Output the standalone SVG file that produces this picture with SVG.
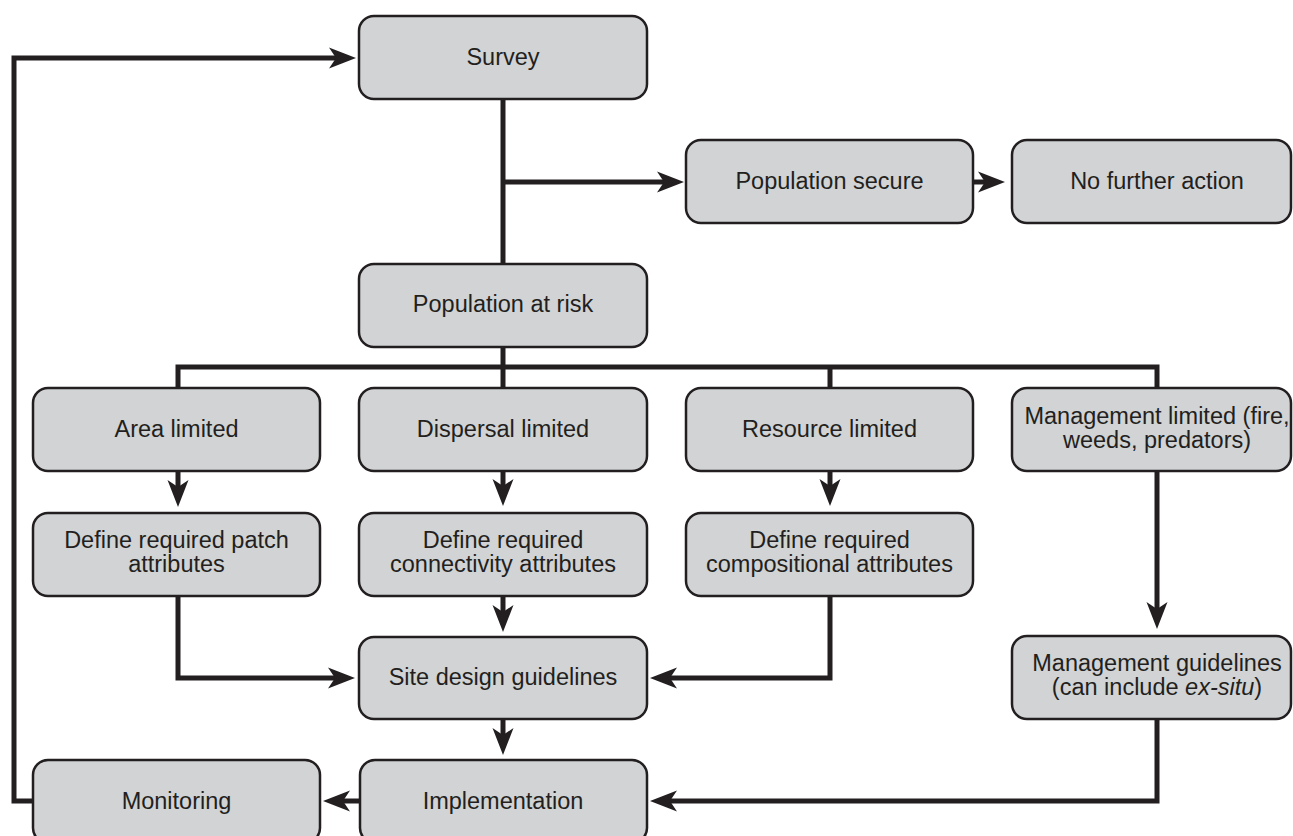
<svg xmlns="http://www.w3.org/2000/svg" width="1293" height="836" viewBox="0 0 1293 836">
<style>
.box{fill:#d1d3d4;stroke:#231f20;stroke-width:2.5}
.lbl{font-family:"Liberation Sans",Arial,Helvetica,sans-serif;font-size:23.5px;fill:#231f20;text-anchor:middle}
.con{fill:none;stroke:#231f20;stroke-width:5;stroke-linejoin:miter;stroke-linecap:butt}
.arr{marker-end:url(#ah)}
</style>
<defs>
<marker id="ah" markerUnits="userSpaceOnUse" markerWidth="28" markerHeight="22" refX="7" refY="0" orient="auto" overflow="visible">
<path d="M0,-10.5 L27,0 L0,10.5 L7,0 Z" fill="#231f20"/>
</marker>
</defs>
<rect width="1293" height="836" fill="#ffffff"/>
<g id="connectors">
<path class="con arr" d="M33,801 H14 V58 H336"/>
<path class="con" d="M503,99 V264"/>
<path class="con arr" d="M503,182 H664"/>
<path class="con arr" d="M973,182 H985"/>
<path class="con" d="M503,347 V388"/>
<path class="con" d="M178,388 V367 H1157 V388"/>
<path class="con" d="M830,367 V388"/>
<path class="con arr" d="M178,471 V487"/>
<path class="con arr" d="M503,471 V486"/>
<path class="con arr" d="M830,471 V486"/>
<path class="con arr" d="M503,596 V612"/>
<path class="con arr" d="M178,596 V678 H335"/>
<path class="con arr" d="M830,596 V678 H670"/>
<path class="con arr" d="M1157,471 V609"/>
<path class="con arr" d="M503,719 V735"/>
<path class="con arr" d="M1157,719 V801 H670"/>
<path class="con arr" d="M360,801 H343"/>
</g>
<g id="survey"><rect class="box" x="359" y="16" width="288" height="83" rx="15"/><text class="lbl" x="503" y="65">Survey</text></g>
<g id="population-secure"><rect class="box" x="686" y="140" width="287" height="83" rx="15"/><text class="lbl" x="829.5" y="189">Population secure</text></g>
<g id="no-further-action"><rect class="box" x="1012" y="140" width="279" height="83" rx="15"/><text class="lbl" x="1157" y="189">No further action</text></g>
<g id="population-at-risk"><rect class="box" x="359" y="264" width="288" height="83" rx="15"/><text class="lbl" x="503" y="312">Population at risk</text></g>
<g id="area-limited"><rect class="box" x="33" y="388" width="287" height="83" rx="15"/><text class="lbl" x="176.5" y="437">Area limited</text></g>
<g id="dispersal-limited"><rect class="box" x="359" y="388" width="288" height="83" rx="15"/><text class="lbl" x="503" y="437">Dispersal limited</text></g>
<g id="resource-limited"><rect class="box" x="686" y="388" width="287" height="83" rx="15"/><text class="lbl" x="829.5" y="437">Resource limited</text></g>
<g id="management-limited"><rect class="box" x="1012" y="388" width="279" height="83" rx="15"/><text class="lbl" x="1157" y="424">Management limited (fire,</text><text class="lbl" x="1157" y="448">weeds, predators)</text></g>
<g id="define-patch"><rect class="box" x="33" y="513" width="287" height="83" rx="15"/><text class="lbl" x="176.5" y="548">Define required patch</text><text class="lbl" x="176.5" y="572">attributes</text></g>
<g id="define-connectivity"><rect class="box" x="359" y="513" width="288" height="83" rx="15"/><text class="lbl" x="503" y="548">Define required</text><text class="lbl" x="503" y="572">connectivity attributes</text></g>
<g id="define-compositional"><rect class="box" x="686" y="513" width="287" height="83" rx="15"/><text class="lbl" x="829.5" y="548">Define required</text><text class="lbl" x="829.5" y="572">compositional attributes</text></g>
<g id="site-design"><rect class="box" x="359" y="637" width="288" height="82" rx="15"/><text class="lbl" x="503" y="685">Site design guidelines</text></g>
<g id="management-guidelines"><rect class="box" x="1012" y="636" width="279" height="83" rx="15"/><text class="lbl" x="1157" y="671">Management guidelines</text><text class="lbl" x="1157" y="695">(can include <tspan font-style="italic">ex-situ</tspan>)</text></g>
<g id="monitoring"><rect class="box" x="33" y="760" width="287" height="83" rx="15"/><text class="lbl" x="176.5" y="809">Monitoring</text></g>
<g id="implementation"><rect class="box" x="360" y="760" width="287" height="83" rx="15"/><text class="lbl" x="503" y="809">Implementation</text></g>
</svg>
